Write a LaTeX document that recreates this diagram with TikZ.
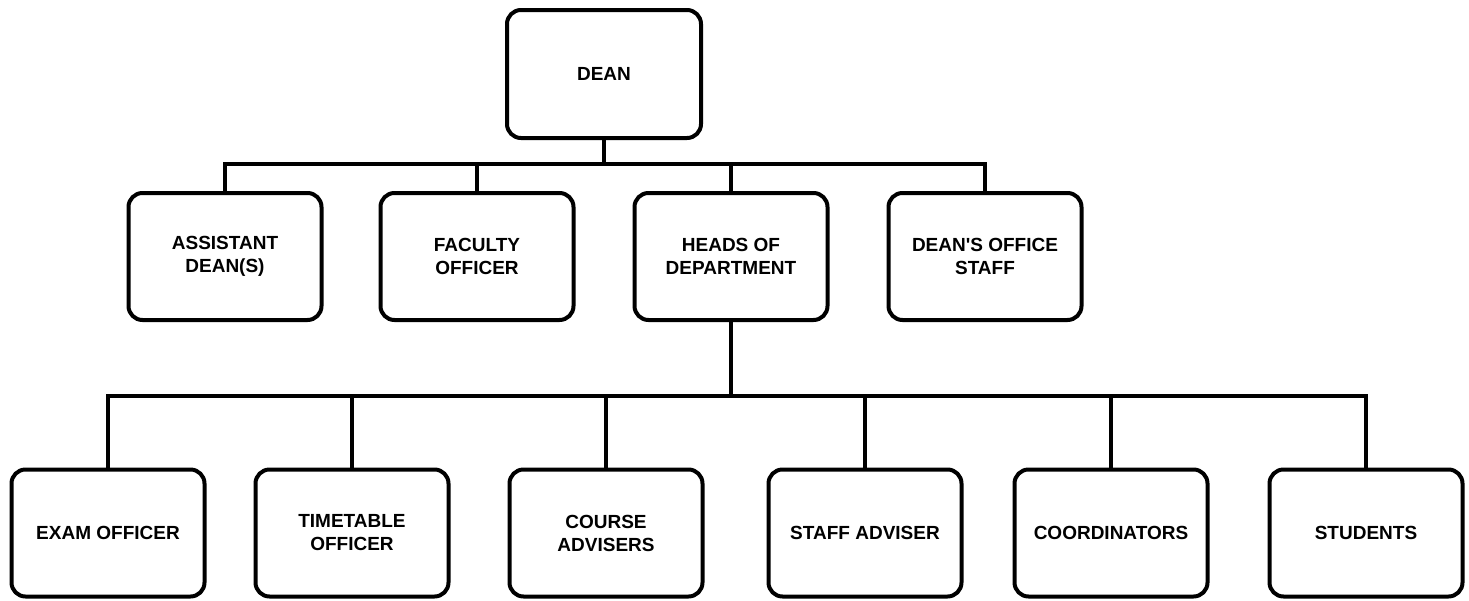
\documentclass[tikz,border=0pt]{standalone}
\usepackage{fontspec}
\setmainfont{Liberation Sans}
\usetikzlibrary{positioning}
\usetikzlibrary{calc}

\begin{document}
\begin{tikzpicture}[x=1pt,y=-1pt,line width=4pt,
                    main node/.style={rectangle,draw,rounded corners=14pt,align=center,
                      minimum width=193pt,minimum height=127pt,
                      font=\fontsize{19}{23}\selectfont\bfseries}]
\useasboundingbox (0,0) rectangle (1469,600);

\node[main node,minimum width=194pt,minimum height=128pt] (dean) at (604,74) {DEAN};

\node[main node] (asst) at (225,256.5) {ASSISTANT\\DEAN(S)};
\node[main node] (fac) at (477,256.5) {FACULTY\\OFFICER};
\node[main node] (hod) at (731,256.5) {HEADS OF\\DEPARTMENT};
\node[main node] (dos) at (985,256.5) {DEAN\textquotesingle S OFFICE\\STAFF};

\node[main node] (exam) at (108,533) {EXAM OFFICER};
\node[main node] (time) at (352,533) {TIMETABLE\\OFFICER};
\node[main node] (course) at (606,533) {COURSE\\ADVISERS};
\node[main node] (sadv) at (865,533) {STAFF ADVISER};
\node[main node] (coord) at (1111,533) {COORDINATORS};
\node[main node] (stud) at (1366,533) {STUDENTS};

\coordinate (bus1) at (604,164);
\coordinate (bus2) at (731,396);

\draw (dean) -- (bus1);
\draw (asst.north) |- (bus1) -| (dos.north);
\draw (fac.north) -- (fac.north |- bus1);
\draw (hod.north) -- (hod.north |- bus1);

\draw (hod) -- (bus2);
\draw (exam.north) |- (bus2) -| (stud.north);
\draw (time.north) -- (time.north |- bus2);
\draw (course.north) -- (course.north |- bus2);
\draw (sadv.north) -- (sadv.north |- bus2);
\draw (coord.north) -- (coord.north |- bus2);
\end{tikzpicture}
\end{document}
